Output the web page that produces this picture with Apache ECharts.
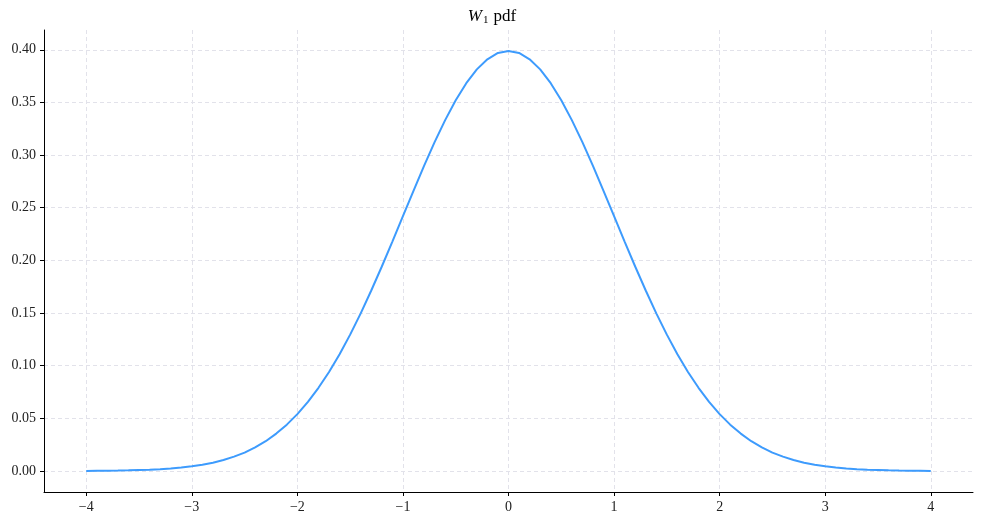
<!DOCTYPE html>
<html>
<head>
<meta charset="utf-8">
<script src="https://cdn.jsdelivr.net/npm/echarts@6/dist/echarts.min.js"></script>
<style>
html,body{margin:0;padding:0;background:#fff;}
#chart{width:984px;height:525px;}
</style>
</head>
<body>
<div id="chart"></div>
<script>
// x positions of the curve samples
const xValues = [
 -4.0,-3.9,-3.8,-3.7,-3.6,-3.5,-3.4,-3.3,-3.2,-3.1,
 -3.0,-2.9,-2.8,-2.7,-2.6,-2.5,-2.4,-2.3,-2.2,-2.1,
 -2.0,-1.9,-1.8,-1.7,-1.6,-1.5,-1.4,-1.3,-1.2,-1.1,
 -1.0,-0.9,-0.8,-0.7,-0.6,-0.5,-0.4,-0.3,-0.2,-0.1,
 0.0,0.1,0.2,0.3,0.4,0.5,0.6,0.7,0.8,0.9,
 1.0,1.1,1.2,1.3,1.4,1.5,1.6,1.7,1.8,1.9,
 2.0,2.1,2.2,2.3,2.4,2.5,2.6,2.7,2.8,2.9,
 3.0,3.1,3.2,3.3,3.4,3.5,3.6,3.7,3.8,3.9,4.0
];
// pdf values
const pdfValues = [
 0.0001,0.0002,0.0003,0.0004,0.0006,0.0009,0.0012,0.0017,0.0024,0.0033,
 0.0044,0.0060,0.0079,0.0104,0.0136,0.0175,0.0224,0.0283,0.0355,0.0440,
 0.0540,0.0656,0.0790,0.0940,0.1109,0.1295,0.1497,0.1714,0.1942,0.2179,
 0.2420,0.2661,0.2897,0.3123,0.3332,0.3521,0.3683,0.3814,0.3910,0.3970,
 0.3989,0.3970,0.3910,0.3814,0.3683,0.3521,0.3332,0.3123,0.2897,0.2661,
 0.2420,0.2179,0.1942,0.1714,0.1497,0.1295,0.1109,0.0940,0.0790,0.0656,
 0.0540,0.0440,0.0355,0.0283,0.0224,0.0175,0.0136,0.0104,0.0079,0.0060,
 0.0044,0.0033,0.0024,0.0017,0.0012,0.0009,0.0006,0.0004,0.0003,0.0002,0.0001
];
const xTicks = [-4,-3,-2,-1,0,1,2,3,4];
const yTicks = [0,0.05,0.10,0.15,0.20,0.25,0.30,0.35,0.40];

const FONT = 'Liberation Serif';
const chart = echarts.init(document.getElementById('chart'), null, {renderer:'canvas'});
const data = xValues.map((x,i)=>[x,pdfValues[i]]);
const gridStyle = {show:true, lineStyle:{color:'#e2e2ea', type:[4,3], width:1}};

chart.setOption({
  animation:false,
  backgroundColor:'#fff',
  title:{
    text:'{i|W}{s|1} {n|pdf}',
    left:'center', top:2,
    textStyle:{
      fontWeight:'normal',
      rich:{
        i:{fontFamily:FONT, fontStyle:'italic', fontWeight:'normal', fontSize:17, color:'#000'},
        s:{fontFamily:FONT, fontWeight:'normal', fontSize:11, color:'#000', verticalAlign:'bottom', padding:[8,0,0,1]},
        n:{fontFamily:FONT, fontWeight:'normal', fontSize:17, color:'#000'}
      }
    }
  },
  grid:{left:44, right:11, top:30, bottom:33, containLabel:false},
  xAxis:{
    type:'value', min:-4.4, max:4.4,
    axisLine:{show:true, onZero:false, lineStyle:{color:'#000', width:1}},
    axisTick:{show:true, length:4, customValues:xTicks, lineStyle:{color:'#000'}},
    axisLabel:{customValues:xTicks, fontFamily:FONT, fontSize:14, color:'#222', margin:8,
      formatter:v=>String(v).replace('-','\u2212')},
    splitLine:gridStyle
  },
  yAxis:{
    type:'value', min:-0.01995, max:0.4188,
    axisLine:{show:true, onZero:false, lineStyle:{color:'#000', width:1}},
    axisTick:{show:true, length:4, customValues:yTicks, lineStyle:{color:'#000'}},
    axisLabel:{customValues:yTicks, fontFamily:FONT, fontSize:14, color:'#222', margin:8,
      formatter:v=>v.toFixed(2)},
    splitLine:gridStyle
  },
  series:[{
    type:'line', data:data, showSymbol:false, smooth:false,
    lineStyle:{color:'#3d9bfd', width:2},
    clip:false
  }]
});
</script>
</body>
</html>
